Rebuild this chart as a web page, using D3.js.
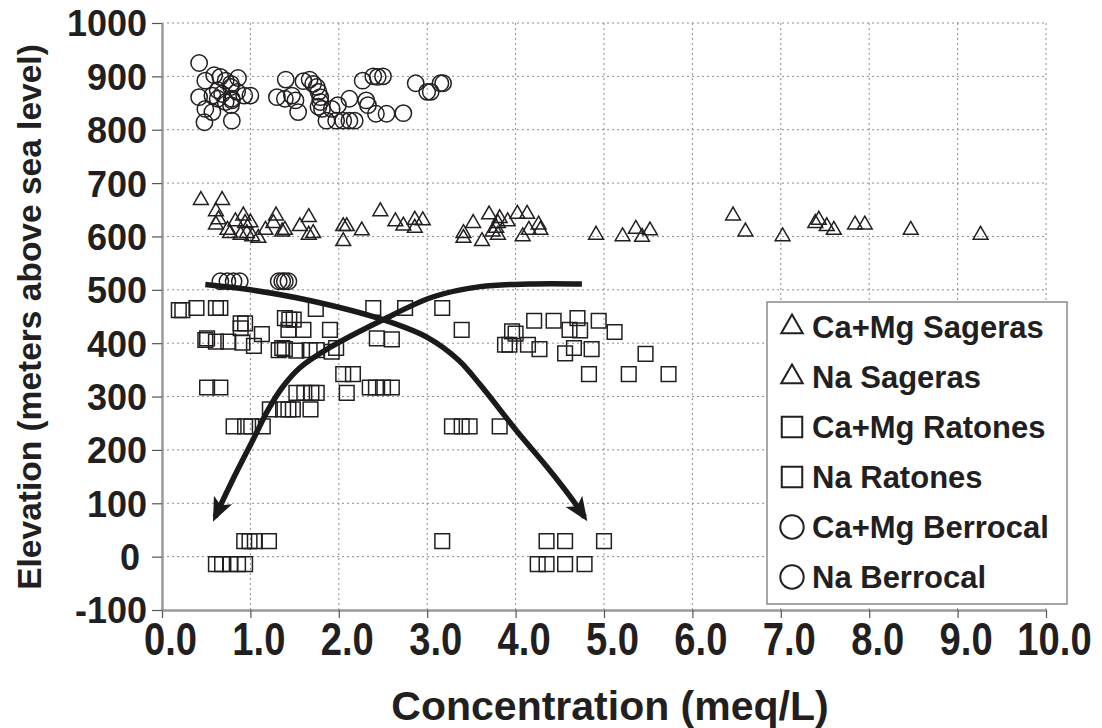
<!DOCTYPE html>
<html>
<head>
<meta charset="utf-8">
<script src="https://cdn.jsdelivr.net/npm/d3@7"></script>
<style>
  body { margin: 0; background: #fff; }
  svg { display: block; font-family: "Liberation Sans", Arial, sans-serif; font-weight: bold; }
  .grid line { stroke: #8a8a8a; stroke-width: 1; stroke-dasharray: 2,3; }
</style>
</head>
<body>
<svg width="1102" height="728"></svg>
<script>
// [concentration meq/L, elevation m]
const sagerasCaMg = [[0.44,668],[0.68,668],[0.61,647],[0.64,632],[0.61,622],[0.74,612],[0.77,606],[0.83,628],[0.92,639],[0.94,625],[1.0,626],[0.96,606],[0.89,603],[1.02,600],[1.09,597],[1.17,612],[1.29,639],[1.26,625],[1.36,609],[1.39,612],[1.56,619],[1.66,636],[1.66,603],[1.71,606],[2.05,619],[2.09,619],[2.05,591],[2.26,611],[2.47,647]];
const sagerasNa = [[2.64,628],[2.73,620],[2.86,631],[2.86,616],[2.95,630],[3.41,606],[3.41,597],[3.52,625],[3.62,591],[3.70,641],[3.80,625],[3.82,634],[3.78,616],[3.74,609],[3.80,603],[3.91,628],[4.02,642],[4.13,642],[4.15,612],[4.08,600],[4.26,622],[4.28,612],[4.91,603],[5.21,600],[5.36,614],[5.43,599],[5.52,611],[6.46,639],[6.60,609],[7.02,600],[7.39,625],[7.43,631],[7.52,619],[7.60,612],[7.84,622],[7.95,622],[8.47,612],[9.26,603]];
const ratonesCaMg = [[0.19,462],[0.23,462],[0.39,466],[0.61,466],[0.66,466],[1.74,464],[2.39,466],[2.75,466],
  [0.89,437],[0.94,437],[0.89,428],[1.39,447],[1.44,444],[1.49,444],[1.43,425],[1.60,425],[1.90,425],
  [0.51,409],[0.49,406],[0.61,403],[0.75,403],[0.91,401],[1.04,395],[1.13,417],[1.32,387],[1.36,391],[1.39,389],[1.52,386],[1.67,387],[1.75,387],[1.92,384],[1.97,391],[2.43,409],[2.60,407],
  [2.05,342],[2.16,342],[2.09,307],[2.35,317],[2.42,317],[2.50,317],[2.60,317],[0.51,317],[0.66,317],[1.52,307],[1.61,307],[1.69,307],[1.75,307],
  [1.22,276],[1.37,276],[1.43,276],[1.48,276],[1.68,276],
  [0.81,244],[0.94,244],[1.01,244],[1.14,244],
  [0.93,29],[0.99,29],[1.05,29],[1.21,29],
  [0.61,-14],[0.68,-14],[0.77,-14],[0.86,-14],[0.94,-14]];
const ratonesNa = [[3.17,466],[3.39,425],[3.96,422],[4.0,418],[3.88,397],[3.93,397],[4.14,397],[4.21,442],[4.43,442],[4.27,389],[4.56,381],[4.61,425],[4.70,447],[4.73,424],[4.66,391],[4.86,389],[4.94,442],[5.12,421],[5.47,380],[4.83,342],[5.28,342],[5.73,342],
  [3.28,244],[3.39,244],[3.48,244],[3.82,244],
  [3.17,29],[4.35,29],[4.56,29],[5.0,29],
  [4.25,-14],[4.35,-14],[4.56,-14],[4.78,-14]];
const berrocalCaMg = [[0.42,925],[0.49,892],[0.59,902],[0.66,899],[0.72,892],[0.78,886],[0.86,897],[0.63,874],[0.68,867],[0.78,880],[0.79,858],[0.85,871],[0.42,861],[0.57,864],[0.63,858],[0.72,852],[0.79,855],[0.49,839],[0.57,833],[0.78,846],[0.48,814],[0.79,817],[0.93,864],[1.0,864],
  [0.66,516],[0.74,516],[0.81,516],[0.88,516]];
const berrocalNa = [[1.40,894],[1.30,861],[1.39,858],[1.47,864],[1.51,855],[1.54,833],[1.60,891],[1.67,894],[1.71,886],[1.75,880],[1.77,871],[1.79,861],[1.79,852],[1.77,843],[1.81,839],[1.86,817],[1.92,839],[1.99,846],[1.97,817],[2.05,817],[2.12,817],[2.18,817],[2.12,858],[2.27,892],[2.39,900],[2.44,899],[2.50,900],[2.31,855],[2.33,846],[2.42,830],[2.54,830],[2.73,831],[2.87,887],[3.0,871],[3.04,871],[3.15,887],[3.18,887],
  [1.32,516],[1.36,516],[1.39,516],[1.43,516]];

// hand-drawn trend arrows
const trendDown = [[0.49,510],[1.0,500],[1.67,480],[2.5,444],[3.01,410],[3.35,369],[3.60,322],[4.02,234],[4.36,167],[4.62,112],[4.78,74]];
const trendUp = [[4.75,511],[4.16,511],[3.60,506],[3.07,487],[2.5,444],[1.90,392],[1.56,354],[1.36,317],[1.20,275],[1.03,219],[0.80,144],[0.60,74]];

const legendLabels = ['Ca+Mg Sageras', 'Na Sageras', 'Ca+Mg Ratones', 'Na Ratones', 'Ca+Mg Berrocal', 'Na Berrocal'];
const xTicks = [0,1,2,3,4,5,6,7,8,9,10];
const yTicks = [-100,0,100,200,300,400,500,600,700,800,900,1000];

const ink = '#231f20';
const svg = d3.select('svg');
const margin = {left: 162, top: 23, right: 1046, bottom: 610};

const x = d3.scaleLinear().domain([0, 10]).range([margin.left, margin.right]);
const y = d3.scaleLinear().domain([-100, 1000]).range([margin.bottom, margin.top]);

// grid
const grid = svg.append('g').attr('class', 'grid');
grid.selectAll('.gx').data(xTicks.slice(1)).join('line')
    .attr('x1', d => x(d)).attr('x2', d => x(d))
    .attr('y1', margin.top).attr('y2', margin.bottom);
grid.selectAll('.gy').data(yTicks.slice(1)).join('line')
    .attr('x1', margin.left).attr('x2', margin.right)
    .attr('y1', d => y(d)).attr('y2', d => y(d));

// axes
const xAxis = d3.axisBottom(x).tickValues(xTicks).tickSize(8).tickSizeOuter(0)
    .tickFormat(d => d.toFixed(1));
const xAxisG = svg.append('g').attr('transform', `translate(0,${margin.bottom})`).call(xAxis);
xAxisG.select('.domain').attr('stroke', '#9a9a9a').attr('stroke-width', 2.5);
xAxisG.selectAll('.tick line').attr('stroke', '#555').attr('stroke-width', 1.2);
xAxisG.selectAll('.tick text')
    .attr('fill', ink).attr('y', 45).attr('dy', 0)
    .attr('font-size', 46).attr('font-weight', 'bold')
    .attr('font-family', '"Liberation Sans", Arial, sans-serif')
    .attr('transform', 'translate(8,0) scale(0.83,1)');

const yAxis = d3.axisLeft(y).tickValues(yTicks).tickSize(10).tickSizeOuter(0)
    .tickFormat(d => String(d));
const yAxisG = svg.append('g').attr('transform', `translate(${margin.left},0)`).call(yAxis);
yAxisG.select('.domain').attr('stroke', '#9a9a9a').attr('stroke-width', 2.5);
yAxisG.selectAll('.tick line').attr('stroke', '#555').attr('stroke-width', 1.2);
yAxisG.selectAll('.tick text')
    .attr('fill', ink).attr('x', d => d === 0 ? -22 : -15).attr('dy', '0.36em')
    .attr('font-size', 36).attr('font-weight', 'bold')
    .attr('font-family', '"Liberation Sans", Arial, sans-serif');

svg.append('text')
    .attr('x', 610).attr('y', 720)
    .attr('text-anchor', 'middle')
    .attr('font-size', 41).attr('fill', ink)
    .text('Concentration (meq/L)');

svg.append('text')
    .attr('transform', 'translate(41,317) rotate(-90)')
    .attr('text-anchor', 'middle')
    .attr('font-size', 33.5).attr('fill', ink)
    .text('Elevation (meters above sea level)');

// markers
const tri = d3.symbol(d3.symbolTriangle, 95);
const sq = d3.symbol(d3.symbolSquare, 215);
const circ = d3.symbol(d3.symbolCircle, 210);

const series = [
    {data: sagerasCaMg, sym: tri},
    {data: sagerasNa, sym: tri},
    {data: ratonesCaMg, sym: sq},
    {data: ratonesNa, sym: sq},
    {data: berrocalCaMg, sym: circ},
    {data: berrocalNa, sym: circ}
];

const pts = svg.append('g');
series.forEach(s => {
    pts.append('g').selectAll('path').data(s.data).join('path')
        .attr('transform', d => `translate(${x(d[0])},${y(d[1])})`)
        .attr('d', s.sym())
        .attr('fill', 'none')
        .attr('stroke', ink)
        .attr('stroke-width', 1.5);
});

// trend arrows
svg.append('defs').append('marker')
    .attr('id', 'arrow')
    .attr('markerUnits', 'userSpaceOnUse')
    .attr('viewBox', '-24 -12 30 24')
    .attr('markerWidth', 30).attr('markerHeight', 24)
    .attr('refX', 0).attr('refY', 0)
    .attr('orient', 'auto')
    .append('path')
    .attr('d', 'M5,0 L-19,-10 L-13,0 L-19,10 Z')
    .attr('fill', '#1a1a1a');

const line = d3.line().x(d => x(d[0])).y(d => y(d[1])).curve(d3.curveCatmullRom.alpha(0.5));
[trendDown, trendUp].forEach(t => {
    svg.append('path')
        .attr('d', line(t))
        .attr('fill', 'none')
        .attr('stroke', '#1a1a1a')
        .attr('stroke-width', 5.5)
        .attr('marker-end', 'url(#arrow)');
});

// legend
const lg = svg.append('g');
lg.append('rect')
    .attr('x', 767).attr('y', 302).attr('width', 300).attr('height', 302)
    .attr('fill', '#fff').attr('stroke', '#8a8a8a').attr('stroke-width', 1.5);
const legSyms = [d3.symbol(d3.symbolTriangle, 200), d3.symbol(d3.symbolTriangle, 200),
    d3.symbol(d3.symbolSquare, 420), d3.symbol(d3.symbolSquare, 420),
    d3.symbol(d3.symbolCircle, 430), d3.symbol(d3.symbolCircle, 430)];
const rows = lg.selectAll('g.row').data(legendLabels).join('g')
    .attr('transform', (d, i) => `translate(0,${327 + i * 50})`);
rows.append('path')
    .attr('transform', 'translate(792,0)')
    .attr('d', (d, i) => legSyms[i]())
    .attr('fill', 'none').attr('stroke', ink).attr('stroke-width', 2);
rows.append('text')
    .attr('x', 812).attr('y', 11)
    .attr('font-size', 31).attr('fill', ink)
    .text(d => d);
</script>
</body>
</html>
